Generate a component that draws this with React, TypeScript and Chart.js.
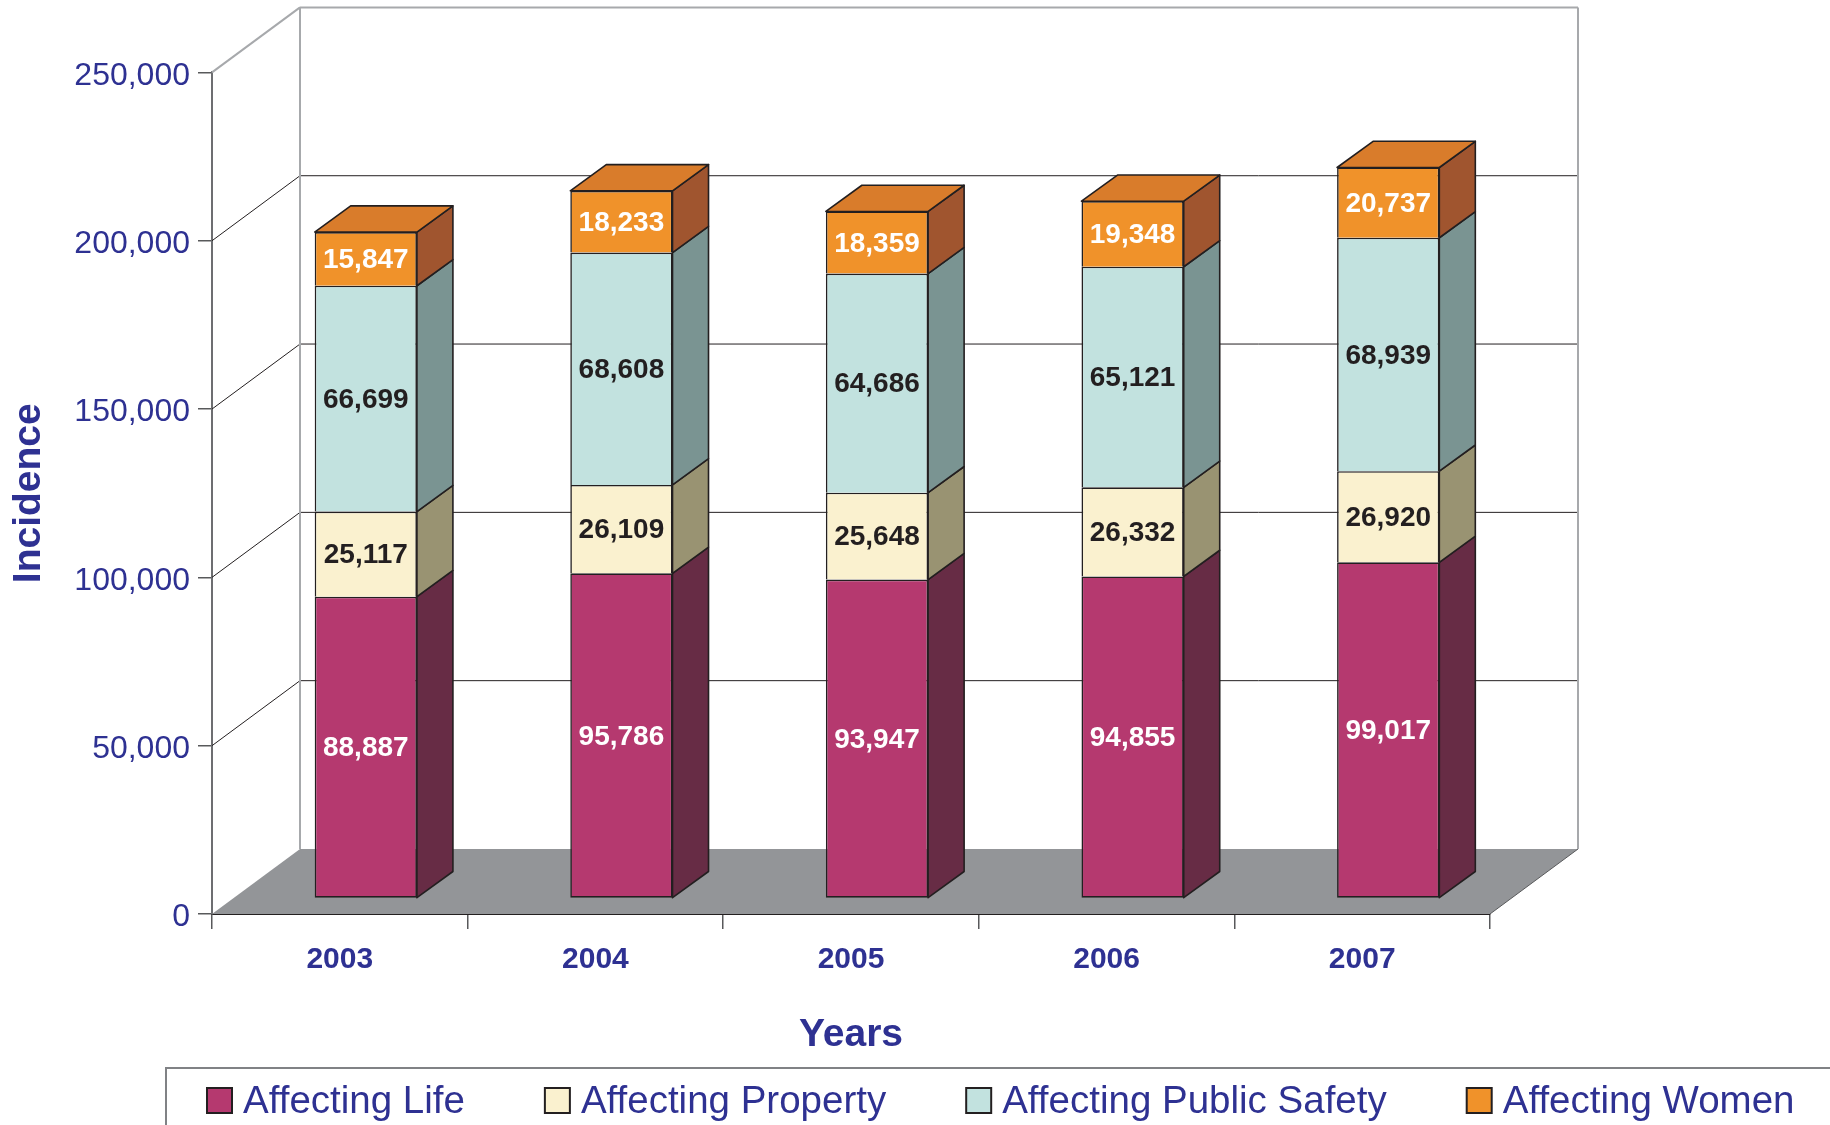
import React, { useEffect, useRef } from "react";
import { Chart, registerables } from "chart.js";

Chart.register(...registerables);

// ---------- data ----------
const years = ["2003", "2004", "2005", "2006", "2007"];
const affectingLife = [88887, 95786, 93947, 94855, 99017];
const affectingProperty = [25117, 26109, 25648, 26332, 26920];
const affectingPublicSafety = [66699, 68608, 64686, 65121, 68939];
const affectingWomen = [15847, 18233, 18359, 19348, 20737];
const seriesNames = ["Affecting Life", "Affecting Property", "Affecting Public Safety", "Affecting Women"];
const yAxisMax = 250000;
const yTickStep = 50000;

// ---------- styles / layout ----------
const W = 1830;
const H = 1125;
const FONT = "'Liberation Sans', Arial, Helvetica, sans-serif";
const TEXT_BLUE = "#2e3192";
const OUTLINE = "#231f20";
const frontColors = ["#b5396f", "#faf1cf", "#c2e2df", "#f0922a"];
const sideColors = ["#672c45", "#999372", "#7a9492", "#a0552f"];
const topColor = "#d97c2b";
const labelColors = ["#ffffff", OUTLINE, OUTLINE, "#ffffff"];

const PLOT_LEFT = 212;
const PLOT_RIGHT = 1490;
const PLOT_TOP = 72.4;
const PLOT_BOTTOM = 914;
const X_AXIS_BOTTOM = 1062.5;
const WALL_DX = 88;
const WALL_DY = -65;
const BAR_LIFT = 16.3; // bars stand slightly behind the front edge of the floor
const BAR_SCALE = 1.006; // perspective: bar plane is slightly nearer than the axis plane
const BAR_SHIFT = 26;
const BAR_DX = 36;
const BAR_DY = -26.2;

const catW = (PLOT_RIGHT - PLOT_LEFT) / years.length;
const barXMin = -0.5 - BAR_SHIFT / catW;
const barXMax = barXMin + years.length;
const barPxPerUnit = ((PLOT_BOTTOM - PLOT_TOP) * BAR_SCALE) / yAxisMax;
const barYMin = -BAR_LIFT / barPxPerUnit;
const barYMax = barYMin + (PLOT_BOTTOM - PLOT_TOP) / barPxPerUnit;

const fmt = (v: number) => v.toLocaleString("en-US");

const threeDPlugin = {
  id: "threeD",
  beforeDatasetsDraw(chart: any) {
    const ctx = chart.ctx;
    const ys = chart.scales.y;
    const y0 = ys.getPixelForValue(0);
    ctx.save();
    // floor
    ctx.beginPath();
    ctx.moveTo(PLOT_LEFT, y0);
    ctx.lineTo(PLOT_RIGHT, y0);
    ctx.lineTo(PLOT_RIGHT + WALL_DX, y0 + WALL_DY);
    ctx.lineTo(PLOT_LEFT + WALL_DX, y0 + WALL_DY);
    ctx.closePath();
    ctx.fillStyle = "#939598";
    ctx.fill();
    // floor right edge
    ctx.beginPath();
    ctx.moveTo(PLOT_RIGHT, y0);
    ctx.lineTo(PLOT_RIGHT + WALL_DX, y0 + WALL_DY);
    ctx.strokeStyle = "#58595b";
    ctx.lineWidth = 1;
    ctx.stroke();

    const topPx = ys.getPixelForValue(yAxisMax);
    // gridlines on back wall + diagonals on side wall
    ys.ticks.forEach((t: any) => {
      const v = t.value;
      const py = ys.getPixelForValue(v);
      const isTop = v === yAxisMax;
      ctx.strokeStyle = isTop ? "#a7a9ac" : OUTLINE;
      ctx.lineWidth = isTop ? 2 : 1;
      if (v !== 0) {
        ctx.beginPath();
        ctx.moveTo(PLOT_LEFT, py);
        ctx.lineTo(PLOT_LEFT + WALL_DX, py + WALL_DY);
        ctx.stroke();
        ctx.beginPath();
        ctx.moveTo(PLOT_LEFT + WALL_DX, py + WALL_DY);
        ctx.lineTo(PLOT_RIGHT + WALL_DX, py + WALL_DY);
        ctx.stroke();
      }
    });
    // back wall verticals
    ctx.strokeStyle = "#a7a9ac";
    ctx.lineWidth = 2;
    [PLOT_LEFT + WALL_DX, PLOT_RIGHT + WALL_DX].forEach((x) => {
      ctx.beginPath();
      ctx.moveTo(x, topPx + WALL_DY);
      ctx.lineTo(x, y0 + WALL_DY);
      ctx.stroke();
    });
    ctx.restore();
  },
  afterDatasetsDraw(chart: any) {
    const ctx = chart.ctx;
    const n = chart.data.datasets.length;
    ctx.save();
    ctx.lineJoin = "round";
    for (let i = 0; i < years.length; i++) {
      for (let d = 0; d < n; d++) {
        const el = chart.getDatasetMeta(d).data[i];
        if (!el) continue;
        const p = el.getProps(["x", "y", "base", "width"], true);
        const L = p.x - p.width / 2;
        const R = p.x + p.width / 2;
        const top = Math.min(p.y, p.base);
        const bot = Math.max(p.y, p.base);
        ctx.lineWidth = 1.6;
        ctx.strokeStyle = OUTLINE;
        // side face
        ctx.beginPath();
        ctx.moveTo(R, top);
        ctx.lineTo(R + BAR_DX, top + BAR_DY);
        ctx.lineTo(R + BAR_DX, bot + BAR_DY);
        ctx.lineTo(R, bot);
        ctx.closePath();
        ctx.fillStyle = sideColors[d];
        ctx.fill();
        ctx.stroke();
        if (d === n - 1) {
          ctx.beginPath();
          ctx.moveTo(L, top);
          ctx.lineTo(L + BAR_DX, top + BAR_DY);
          ctx.lineTo(R + BAR_DX, top + BAR_DY);
          ctx.lineTo(R, top);
          ctx.closePath();
          ctx.fillStyle = topColor;
          ctx.fill();
          ctx.stroke();
        }
      }
    }
    // value labels
    ctx.font = `bold 28px ${FONT}`;
    ctx.textAlign = "center";
    ctx.textBaseline = "middle";
    for (let d = 0; d < n; d++) {
      const meta = chart.getDatasetMeta(d);
      meta.data.forEach((el: any, i: number) => {
        const p = el.getProps(["x", "y", "base"], true);
        ctx.fillStyle = labelColors[d];
        ctx.fillText(fmt(chart.data.datasets[d].data[i].y), p.x, (p.y + p.base) / 2 + 1.5);
      });
    }
    ctx.restore();
  },
  afterDraw(chart: any) {
    const ctx = chart.ctx;
    ctx.save();
    // legend frame
    ctx.strokeStyle = "#808285";
    ctx.lineWidth = 2;
    ctx.strokeRect(166, 1068, W, 200);
    ctx.font = `38.5px ${FONT}`;
    ctx.textBaseline = "alphabetic";
    ctx.textAlign = "left";
    let x = 207;
    chart.data.datasets.forEach((ds: any, d: number) => {
      ctx.fillStyle = frontColors[d];
      ctx.fillRect(x, 1088, 25, 25);
      ctx.strokeStyle = OUTLINE;
      ctx.lineWidth = 2;
      ctx.strokeRect(x, 1088, 25, 25);
      ctx.fillStyle = TEXT_BLUE;
      ctx.fillText(ds.label, x + 36, 1113);
      x += 36 + ctx.measureText(ds.label).width + 80;
    });
    ctx.restore();
  },
};

export default function App() {
  const ref = useRef<HTMLCanvasElement | null>(null);
  useEffect(() => {
    if (!ref.current) return;
    const series = [affectingLife, affectingProperty, affectingPublicSafety, affectingWomen];
    const chart = new Chart(ref.current, {
      type: "bar",
      data: {
        labels: years,
        datasets: series.map((vals, d) => ({
          label: seriesNames[d],
          data: vals.map((v, i) => ({ x: i, y: v })),
          backgroundColor: frontColors[d],
          borderColor: OUTLINE,
          borderWidth: 1.6,
          borderSkipped: d === 0 ? false : "start",
          xAxisID: "xb",
          yAxisID: "yb",
          barPercentage: 0.4,
          categoryPercentage: 1,
        })),
      } as any,
      options: {
        animation: false,
        responsive: false,
        devicePixelRatio: 1,
        events: [],
        layout: {
          autoPadding: false,
          padding: { left: 0, top: PLOT_TOP, right: W - PLOT_RIGHT, bottom: H - X_AXIS_BOTTOM },
        },
        plugins: { legend: { display: false }, tooltip: { enabled: false } },
        scales: {
          x: {
            type: "category",
            position: "bottom",
            offset: true,
            afterFit: (s: any) => {
              s.height = X_AXIS_BOTTOM - PLOT_BOTTOM;
            },
            grid: { drawOnChartArea: false, drawTicks: true, tickLength: 15, color: "#58595b", lineWidth: 1.5, offset: true },
            border: { display: true, color: OUTLINE, width: 2 },
            ticks: { color: TEXT_BLUE, font: { family: FONT, size: 30, weight: "bold" }, padding: 13 },
            title: { display: true, text: "Years", color: TEXT_BLUE, font: { family: FONT, size: 39, weight: "bold" }, padding: { top: 4, bottom: 4 } },
          },
          y: {
            type: "linear",
            position: "left",
            min: 0,
            max: yAxisMax,
            afterFit: (s: any) => {
              s.width = PLOT_LEFT;
            },
            grid: { drawOnChartArea: false, drawTicks: true, tickLength: 14, color: "#58595b", lineWidth: 1.5 },
            border: { display: true, color: "#6d6e71", width: 2 },
            ticks: {
              stepSize: yTickStep,
              includeBounds: false,
              padding: 8,
              labelOffset: 3.5,
              color: TEXT_BLUE,
              font: { family: FONT, size: 32 },
              callback: (v: any) => fmt(Number(v)),
            },
            title: { display: true, text: "Incidence", color: TEXT_BLUE, font: { family: FONT, size: 39, weight: "bold" }, padding: { top: 6, bottom: 4 } },
          },
          xb: {
            type: "linear",
            display: false,
            stacked: true,
            offset: false,
            grid: { offset: false },
            min: barXMin,
            max: barXMax,
            ticks: { stepSize: 1 },
          },
          yb: {
            type: "linear",
            display: false,
            stacked: true,
            min: barYMin,
            max: barYMax,
          },
        },
      } as any,
      plugins: [threeDPlugin],
    });
    return () => chart.destroy();
  }, []);
  return (
    <div style={{ position: "fixed", left: 0, top: 0, width: W, height: H, background: "#fff" }}>
      <canvas ref={ref} width={W} height={H} style={{ display: "block", width: W, height: H }} />
    </div>
  );
}
